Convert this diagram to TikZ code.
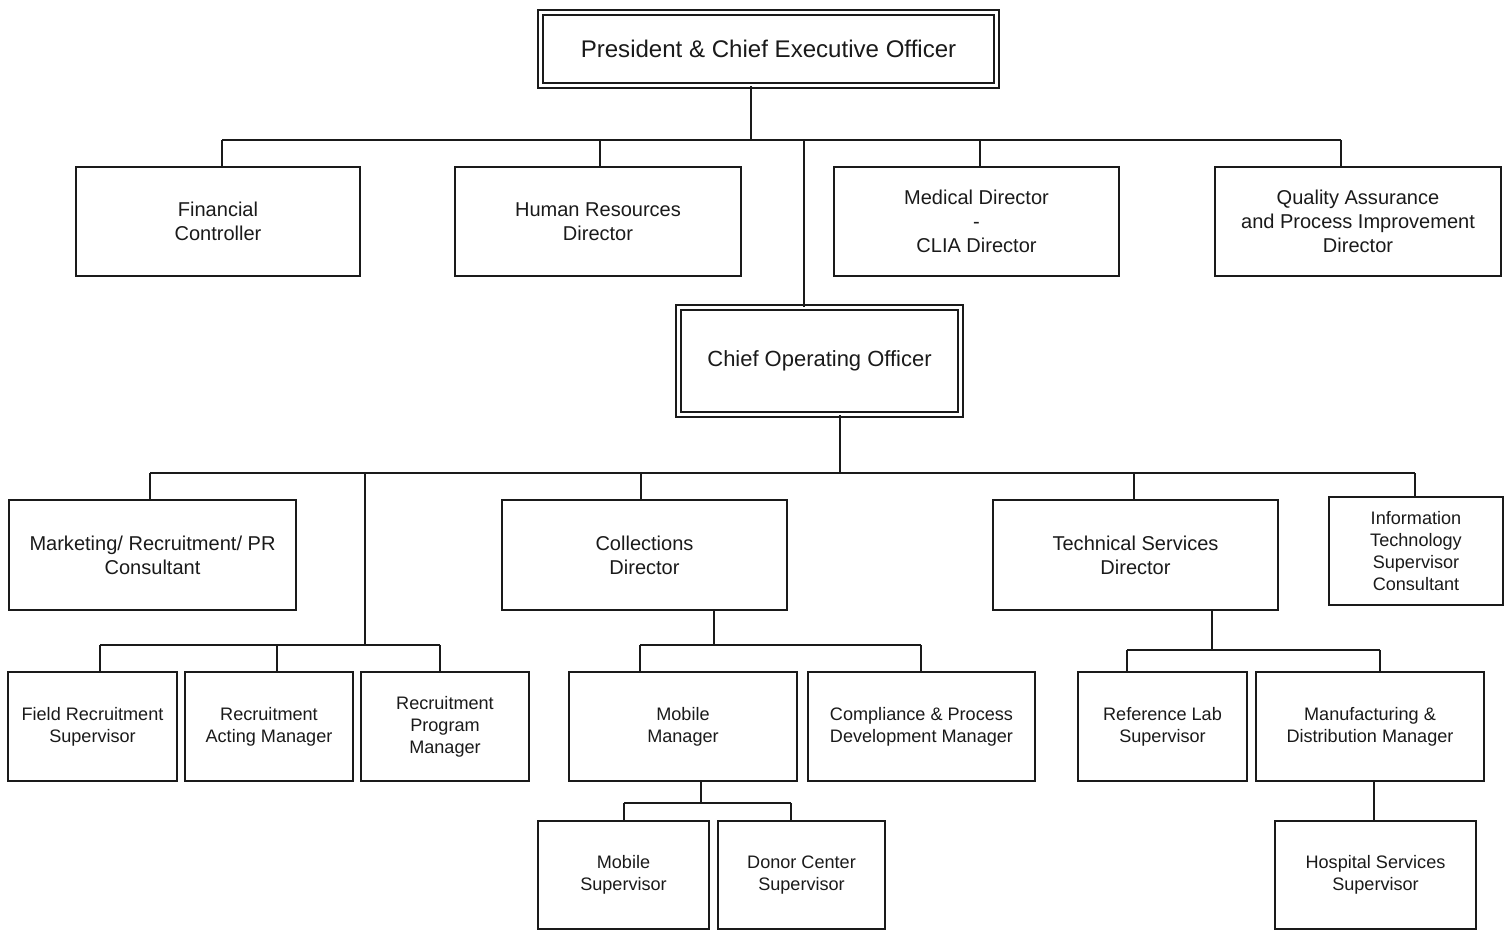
\documentclass[tikz,border=0pt]{standalone}
\usepackage{fontspec}
\setmainfont{Liberation Sans}
\usepackage{xcolor}
\usetikzlibrary{positioning}
\definecolor{ink}{HTML}{1A1A1A}
\newcommand{\ceofont}{\fontsize{13.7pt}{16pt}\selectfont}
\newcommand{\coofont}{\fontsize{12.5pt}{15pt}\selectfont}
\newcommand{\boxfont}{\fontsize{11.4pt}{13.6pt}\selectfont}
\newcommand{\unitfont}{\fontsize{10.3pt}{12.5pt}\selectfont}
\tikzset{
  box/.style={draw=ink, text=ink, line width=1.3pt, align=center, inner sep=0pt, font=\boxfont},
  headbox/.style={box, double, line width=1.1pt, double distance=1.8pt},
  unitbox/.style={box, line width=1pt, font=\unitfont},
  wire/.style={draw=ink, line width=0.9pt},
}
\begin{document}
\begin{tikzpicture}[x=0.02cm, y=-0.02cm]
  \useasboundingbox (0,0) rectangle (1509,931);
  % top level
  \node[headbox, minimum width=9.12cm, minimum height=1.46cm, font=\ceofont] (ceo) at (768.5,49) {President \& Chief Executive Officer};
  \node[box, minimum width=5.68cm, minimum height=2.18cm] (fin) at (218,221.5) {Financial\\Controller};
  \node[box, minimum width=5.72cm, minimum height=2.18cm] (hr) at (598,221.5) {Human Resources\\Director};
  \node[box, minimum width=5.7cm, minimum height=2.18cm] (med) at (976.5,221.5) {Medical Director\\-\\CLIA Director};
  \node[box, minimum width=5.72cm, minimum height=2.18cm] (qa) at (1358,221.5) {Quality Assurance\\and Process Improvement\\Director};
  \node[headbox, minimum width=5.64cm, minimum height=2.14cm, font=\coofont] (coo) at (819.5,361) {Chief Operating Officer};
  % second level
  \node[box, minimum width=5.74cm, minimum height=2.2cm] (mkt) at (152.5,555) {Marketing/ Recruitment/ PR\\Consultant};
  \node[box, minimum width=5.7cm, minimum height=2.2cm] (coll) at (644.5,555) {Collections\\Director};
  \node[box, minimum width=5.7cm, minimum height=2.2cm] (tech) at (1135.5,555) {Technical Services\\Director};
  \node[unitbox, minimum width=3.48cm, minimum height=2.16cm] (it) at (1416,551) {Information\\Technology\\Supervisor\\Consultant};
  % third level
  \node[unitbox, minimum width=3.38cm, minimum height=2.18cm] (field) at (92.5,726.5) {Field Recruitment\\Supervisor};
  \node[unitbox, minimum width=3.36cm, minimum height=2.18cm] (acting) at (269,726.5) {Recruitment\\Acting Manager};
  \node[unitbox, minimum width=3.36cm, minimum height=2.18cm] (prog) at (445,726.5) {Recruitment\\Program\\Manager};
  \node[unitbox, minimum width=4.56cm, minimum height=2.18cm] (mob) at (683,726.5) {Mobile\\Manager};
  \node[unitbox, minimum width=4.54cm, minimum height=2.18cm] (comp) at (921.5,726.5) {Compliance \& Process\\Development Manager};
  \node[unitbox, minimum width=3.38cm, minimum height=2.18cm] (ref) at (1162.5,726.5) {Reference Lab\\Supervisor};
  \node[unitbox, minimum width=4.56cm, minimum height=2.18cm] (manuf) at (1370,726.5) {Manufacturing \&\\Distribution Manager};
  % fourth level
  \node[unitbox, minimum width=3.42cm, minimum height=2.16cm] (mobsup) at (623.5,875) {Mobile\\Supervisor};
  \node[unitbox, minimum width=3.34cm, minimum height=2.16cm] (donor) at (801.5,875) {Donor Center\\Supervisor};
  \node[unitbox, minimum width=4.02cm, minimum height=2.16cm] (hosp) at (1375.5,875) {Hospital Services\\Supervisor};

  % connectors under the CEO
  \coordinate (ceoJ) at (751,140);
  \coordinate (finJ) at (222,140);
  \coordinate (hrJ) at (600,140);
  \coordinate (medJ) at (980,140);
  \coordinate (qaJ) at (1341,140);
  \coordinate (cooJ) at (804,140);
  \draw[wire] (ceo.south -| ceoJ) -- (ceoJ);
  \draw[wire] (finJ) -- (qaJ);
  \foreach \j/\n in {finJ/fin, hrJ/hr, medJ/med, qaJ/qa, cooJ/coo}
    \draw[wire] (\j) -- (\j |- \n.north);
  % connectors under the COO
  \coordinate (opsJ) at (840,473);
  \coordinate (mktJ) at (150,473);
  \coordinate (recJ) at (365,473);
  \coordinate (collJ) at (641,473);
  \coordinate (techJ) at (1134,473);
  \coordinate (itJ) at (1415,473);
  \draw[wire] (coo.south -| opsJ) -- (opsJ);
  \draw[wire] (mktJ) -- (itJ);
  \foreach \j/\n in {mktJ/mkt, collJ/coll, techJ/tech, itJ/it}
    \draw[wire] (\j) -- (\j |- \n.north);
  % recruitment
  \coordinate (recB) at (365,645);
  \coordinate (fieldJ) at (100,645);
  \coordinate (actingJ) at (277,645);
  \coordinate (progJ) at (440,645);
  \draw[wire] (recJ) -- (recB);
  \draw[wire] (fieldJ) -- (progJ);
  \foreach \j/\n in {fieldJ/field, actingJ/acting, progJ/prog}
    \draw[wire] (\j) -- (\j |- \n.north);
  % collections
  \coordinate (collB) at (714,645);
  \coordinate (mobJ) at (640,645);
  \coordinate (compJ) at (921,645);
  \draw[wire] (coll.south -| collB) -- (collB);
  \draw[wire] (mobJ) -- (compJ);
  \foreach \j/\n in {mobJ/mob, compJ/comp}
    \draw[wire] (\j) -- (\j |- \n.north);
  \coordinate (mobB) at (701,803);
  \coordinate (mobsupJ) at (624,803);
  \coordinate (donorJ) at (791,803);
  \draw[wire] (mob.south -| mobB) -- (mobB);
  \draw[wire] (mobsupJ) -- (donorJ);
  \foreach \j/\n in {mobsupJ/mobsup, donorJ/donor}
    \draw[wire] (\j) -- (\j |- \n.north);
  % technical services
  \coordinate (techB) at (1212,650);
  \coordinate (refJ) at (1127,650);
  \coordinate (manufJ) at (1380,650);
  \draw[wire] (tech.south -| techB) -- (techB);
  \draw[wire] (refJ) -- (manufJ);
  \foreach \j/\n in {refJ/ref, manufJ/manuf}
    \draw[wire] (\j) -- (\j |- \n.north);
  \coordinate (hospJ) at (1374,800);
  \draw[wire] (manuf.south -| hospJ) -- (hospJ |- hosp.north);
\end{tikzpicture}
\end{document}
